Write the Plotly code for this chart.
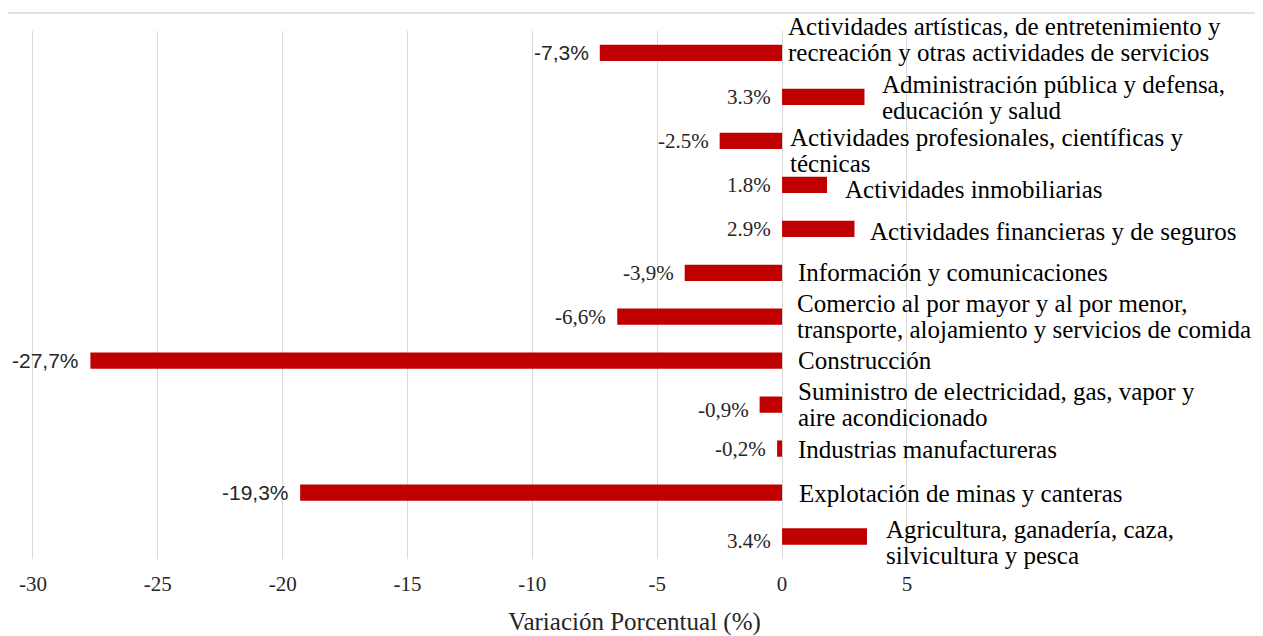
import plotly.graph_objects as go

categories = [
    "Actividades artísticas, de entretenimiento y<br>recreación y otras actividades de servicios",
    "Administración pública y defensa,<br>educación y salud",
    "Actividades profesionales, científicas y<br>técnicas",
    "Actividades inmobiliarias",
    "Actividades financieras y de seguros",
    "Información y comunicaciones",
    "Comercio al por mayor y al por menor,<br>transporte, alojamiento y servicios de comida",
    "Construcción",
    "Suministro de electricidad, gas, vapor y<br>aire acondicionado",
    "Industrias manufactureras",
    "Explotación de minas y canteras",
    "Agricultura, ganadería, caza,<br>silvicultura y pesca",
]
values = [-7.3, 3.3, -2.5, 1.8, 2.9, -3.9, -6.6, -27.7, -0.9, -0.2, -19.3, 3.4]
value_labels = ["-7,3%", "3.3%", "-2.5%", "1.8%", "2.9%", "-3,9%", "-6,6%",
                "-27,7%", "-0,9%", "-0,2%", "-19,3%", "3.4%"]
tick_vals = [-30, -25, -20, -15, -10, -5, 0, 5]
x_title = "Variación Porcentual (%)"

# layout tweaks (pixels)
label_xshift = [4, 16, 6, 16, 14, 14, 13, 14, 14, 14, 15, 17]
label_yshift = [13, -1, -10, -5, -3, 0, 0, 0, 0, -1, -1, -6]
value_sans = [True, False, False, False, False, False, False, True, False, False, True, False]
value_yshift = [0, 0, 0, 0, 0, 0, 0, 0, -5, 0, 0, -4]
LINE_H = 26

SERIF = "Liberation Serif, Times New Roman, serif"
SANS = "Liberation Sans Narrow, Liberation Sans, Arial, sans-serif"
RED = "#C00000"
GRID = "#D9D9D9"

fig = go.Figure(go.Bar(
    x=values, y=categories, orientation="h",
    marker=dict(color=RED, line=dict(width=0)),
    width=0.37, hoverinfo="skip",
))

ann = []
for i, (c, v) in enumerate(zip(categories, values)):
    lines = c.split("<br>")
    n = len(lines)
    for k, ln in enumerate(lines):
        ann.append(dict(
            x=max(v, 0), y=c, xref="x", yref="y", text=ln, showarrow=False,
            xanchor="left", yanchor="middle", align="left",
            xshift=label_xshift[i],
            yshift=label_yshift[i] - (k - (n - 1) / 2) * LINE_H,
            font=dict(family=SERIF, size=25, color="#000000"),
        ))
    ann.append(dict(
        x=min(v, 0), y=c, xref="x", yref="y", text=value_labels[i], showarrow=False,
        xanchor="right", yanchor="middle",
        xshift=-9, yshift=value_yshift[i],
        font=dict(family=SANS if value_sans[i] else SERIF, size=21, color="#262626"),
    ))

shapes = [
    dict(type="line", xref="paper", yref="paper", x0=0, x1=1, y0=1.034, y1=1.034,
         line=dict(color=GRID, width=1.5)),
    dict(type="line", xref="paper", yref="paper", x0=1, x1=1, y0=1.034, y1=-0.146,
         line=dict(color=GRID, width=1)),
]

fig.update_layout(
    width=1255, height=628,
    margin=dict(l=0, r=2, t=23, b=77),
    paper_bgcolor="white", plot_bgcolor="white",
    showlegend=False,
    annotations=ann, shapes=shapes,
    xaxis=dict(
        range=[-31.0, 19.18], tickvals=tick_vals,
        ticktext=[str(t) for t in tick_vals],
        showgrid=True, gridcolor=GRID, gridwidth=1,
        zeroline=True, zerolinecolor=GRID, zerolinewidth=1,
        showline=False, ticks="", ticklabelstandoff=10,
        tickfont=dict(family=SERIF, size=21, color="#262626"),
        title=dict(text=x_title, font=dict(family=SERIF, size=25, color="#262626"), standoff=21),
    ),
    yaxis=dict(
        autorange="reversed", showticklabels=False, showgrid=False,
        zeroline=False, showline=False, ticks="",
    ),
    bargap=0.63,
)

fig.write_html("out.html")
